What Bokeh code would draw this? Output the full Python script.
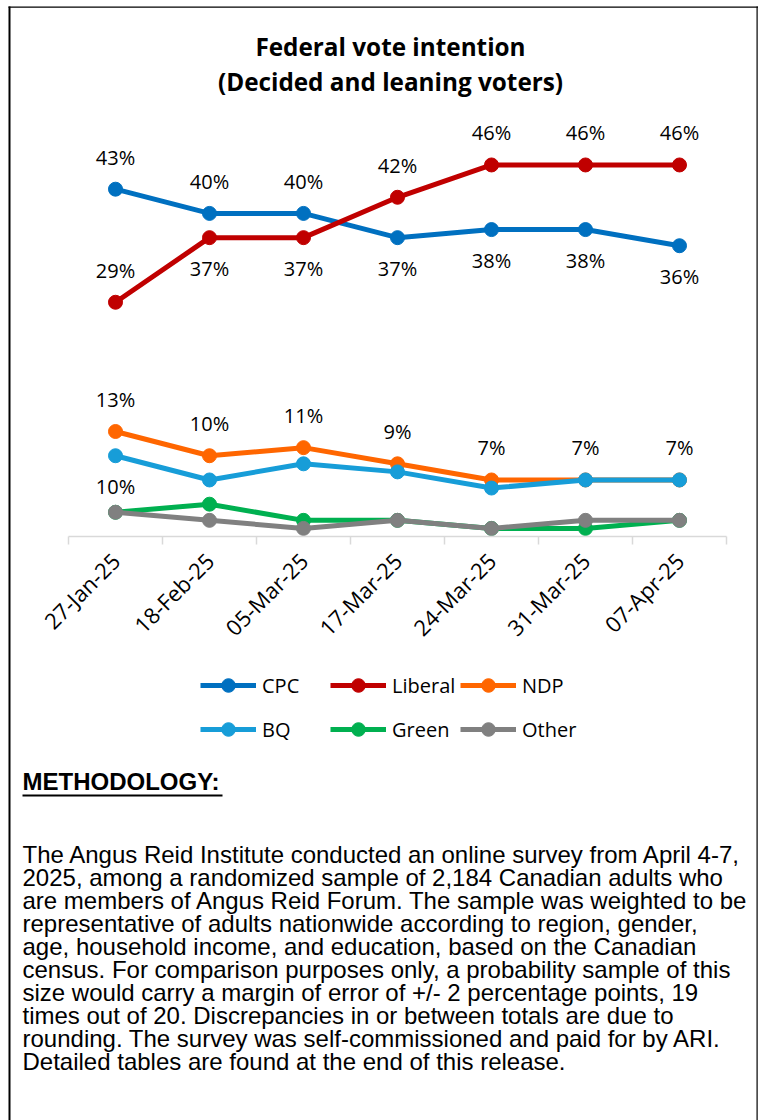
import math
from bokeh.plotting import figure
from bokeh.models import (ColumnDataSource, LabelSet, Label, Legend, LegendItem,
                          FixedTicker, BoxAnnotation, Range1d)
from bokeh.core.properties import value
from bokeh.embed import file_html
from bokeh.resources import INLINE

# ---------------- data ----------------
dates = ["27-Jan-25", "18-Feb-25", "05-Mar-25", "17-Mar-25",
         "24-Mar-25", "31-Mar-25", "07-Apr-25"]
cpc = [43, 40, 40, 37, 38, 38, 36]
liberal = [29, 37, 37, 42, 46, 46, 46]
ndp = [13, 10, 11, 9, 7, 7, 7]
bq = [10, 7, 9, 8, 6, 7, 7]
green = [3, 4, 2, 2, 1, 1, 2]
other = [3, 2, 1, 2, 1, 2, 2]

party_names = ["CPC", "Liberal", "NDP", "BQ", "Green", "Other"]

# data label placement: 1 = above, -1 = below, 0 = no label
cpc_side = [1, 1, 1, -1, -1, -1, -1]
liberal_side = [1, -1, -1, 1, 1, 1, 1]
ndp_side = [1, 1, 1, 1, 1, 1, 1]
bq_side = [-1, 0, 0, 0, 0, 0, 0]
green_side = [0, 0, 0, 0, 0, 0, 0]
other_side = [0, 0, 0, 0, 0, 0, 0]

title_lines = ["Federal vote intention", "(Decided and leaning voters)"]
method_title = "METHODOLOGY:"
method_lines = [
    "The Angus Reid Institute conducted an online survey from April 4-7,",
    "2025, among a randomized sample of 2,184 Canadian adults who",
    "are members of Angus Reid Forum. The sample was weighted to be",
    "representative of adults nationwide according to region, gender,",
    "age, household income, and education, based on the Canadian",
    "census. For comparison purposes only, a probability sample of this",
    "size would carry a margin of error of +/- 2 percentage points, 19",
    "times out of 20. Discrepancies in or between totals are due to",
    "rounding. The survey was self-commissioned and paid for by ARI.",
    "Detailed tables are found at the end of this release.",
]

colors = ["#0070C0", "#C00000", "#FF6600", "#179DD8", "#00B050", "#808080"]
values_all = [cpc, liberal, ndp, bq, green, other]
sides_all = [cpc_side, liberal_side, ndp_side, bq_side, green_side, other_side]

FONT = "Open Sans"
W, H = 758, 1120          # canvas == plot frame
X0, PXX = 68, 94.0        # page x of the axis start, px per category
Y0, PXY = 536, 8.077      # page y of 0 %, px per percentage point

xs = [i + 0.5 for i in range(len(dates))]

# ---------------- figure ----------------
p = figure(frame_width=W, frame_height=H, min_border=0,
           x_range=Range1d(-X0 / PXX, (W - X0) / PXX),
           y_range=Range1d(-(H - Y0) / PXY, Y0 / PXY),
           output_backend="svg", toolbar_location=None,
           background_fill_color="white", border_fill_color="white")
p.title.visible = False
p.outline_line_color = None
p.grid.visible = False
p.yaxis.visible = False

xa = p.xaxis[0]
xa.fixed_location = 0
xa.bounds = (0, len(dates))
xa.ticker = FixedTicker(ticks=xs, minor_ticks=list(range(len(dates) + 1)))
xa.major_label_overrides = {x: d for x, d in zip(xs, dates)}
xa.major_tick_in = 0
xa.major_tick_out = 0
xa.minor_tick_in = 0
xa.minor_tick_out = 8
xa.minor_tick_line_color = "#D9D9D9"
xa.minor_tick_line_width = 1.5
xa.axis_line_color = "#D9D9D9"
xa.axis_line_width = 1.5
xa.major_label_orientation = math.pi / 4
xa.major_label_text_font = FONT
xa.major_label_text_font_size = "22px"
xa.major_label_text_color = "black"
xa.major_label_standoff = 12

items = []
for name, vals, col, sides in zip(party_names, values_all, colors, sides_all):
    src = ColumnDataSource(dict(x=xs, y=vals))
    lr = p.line("x", "y", source=src, line_color=col, line_width=5)
    sr = p.scatter("x", "y", source=src, size=14, fill_color=col, line_color=col)
    items.append(LegendItem(label=name, renderers=[lr, sr]))
    lx, ly, lt, lo = [], [], [], []
    for x, v, s in zip(xs, vals, sides):
        if s != 0:
            lx.append(x)
            ly.append(v)
            lt.append(f"{v}%")
            lo.append(32 if s > 0 else -31)
    if lx:
        lsrc = ColumnDataSource(dict(x=lx, y=ly, t=lt, o=lo))
        p.add_layout(LabelSet(x="x", y="y", text="t", y_offset="o", source=lsrc,
                              text_align="center", text_baseline="middle",
                              text_font=value(FONT), text_font_size="20px",
                              text_color="black"))

# screen positions below are measured from the frame's bottom-left corner
legend = Legend(items=items, location=(200, H - 751), orientation="horizontal", ncols=3,
                glyph_width=56, glyph_height=34, label_width=68, label_height=44,
                label_standoff=6, spacing=0, padding=0, margin=0,
                label_text_font=FONT, label_text_font_size="20px",
                label_text_color="black",
                border_line_alpha=0, background_fill_alpha=0)
p.add_layout(legend)

for i, t in enumerate(title_lines):
    p.add_layout(Label(x=390, y=H - 46 - 35 * i, x_units="screen", y_units="screen",
                       text=t, text_align="center", text_baseline="middle",
                       text_font=FONT, text_font_style="bold",
                       text_font_size="24.3px", text_color="black"))

p.add_layout(Label(x=22, y=H - 781, x_units="screen", y_units="screen",
                   text=method_title, text_align="left", text_baseline="middle",
                   text_font="Liberation Sans", text_font_style="bold",
                   text_font_size="24px", text_color="black"))


def strip(left, right, top, bottom):
    return BoxAnnotation(left=left, right=right, top=H - top, bottom=H - bottom,
                         left_units="screen", right_units="screen",
                         top_units="screen", bottom_units="screen",
                         fill_color="black", fill_alpha=1, line_alpha=0)


p.add_layout(strip(22, 222, 794, 796))          # underline of the heading
for i, t in enumerate(method_lines):
    p.add_layout(Label(x=22, y=H - 854 - 23 * i, x_units="screen", y_units="screen",
                       text=t, text_align="left", text_baseline="middle",
                       text_font="Liberation Sans", text_font_size="24px",
                       text_color="black"))

# outer frame (left, top, right edges)
p.add_layout(strip(8, 10, 6, H + 10))
p.add_layout(strip(8, W, 6, 7.2))
p.add_layout(strip(756, 757.2, 6, H + 10))

open("out.html", "w").write(file_html(p, INLINE))
